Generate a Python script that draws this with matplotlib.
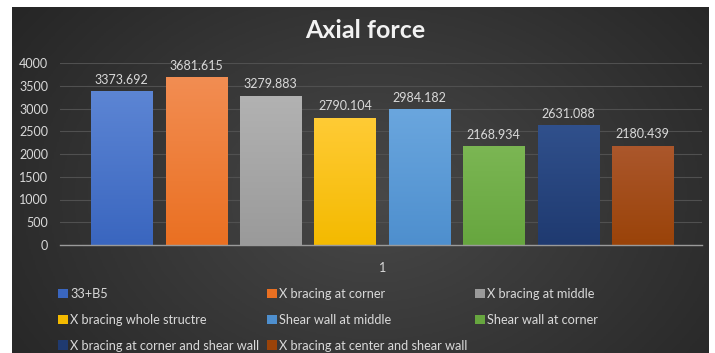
import numpy as np
import matplotlib
matplotlib.use("Agg")
import matplotlib.pyplot as plt
from matplotlib.colors import LinearSegmentedColormap

categories = ["33+B5", "X bracing at corner", "X bracing at middle",
              "X bracing whole structre", "Shear wall at middle",
              "Shear wall at corner", "X bracing at corner and shear wall",
              "X bracing at center and shear wall"]
values = [3373.692, 3681.615, 3279.883, 2790.104, 2984.182, 2168.934, 2631.088, 2180.439]
top_colors = ["#5c85d4", "#f28d52", "#b2b2b2", "#ffcb35", "#6aa6de", "#7bb653", "#30508c", "#ab572c"]
bottom_colors = ["#3a66bf", "#ea7022", "#9a9a9a", "#f4ba00", "#4e8fce", "#67a63f", "#1f3a70", "#9a4309"]
group_label = "1"
yticks = [0, 500, 1000, 1500, 2000, 2500, 3000, 3500, 4000]

plt.rcParams['font.family'] = ['Lato', 'DejaVu Sans']

W, H = 715, 353
fig = plt.figure(figsize=(W / 100, H / 100), dpi=100)
fig.patch.set_facecolor("white")

# dark gradient background panel
bg = fig.add_axes([12 / W, 0, (709 - 12) / W, (353 - 7) / H])
bg.set_axis_off()
yy, xx = np.mgrid[0:1:200j, 0:1:400j]
r = np.sqrt(((xx - 0.52) / 0.75) ** 2 + ((yy - 0.45) / 1.1) ** 2)
cmap_bg = LinearSegmentedColormap.from_list("bg", ["#484848", "#373737", "#262626"])
bg.imshow(r, cmap=cmap_bg, aspect="auto", extent=[0, 1, 0, 1], origin="lower", vmin=0, vmax=0.85)
bg.set_xlim(0, 1)
bg.set_ylim(0, 1)

ax = fig.add_axes([60 / W, 1 - 245 / H, (702 - 60) / W, (245 - 63) / H])
ax.set_facecolor("none")
x = np.arange(len(values))
width = 0.82
bars = ax.bar(x, values, width=width, color=bottom_colors, zorder=3)
handles = []
for i, b in enumerate(bars):
    cm = LinearSegmentedColormap.from_list("g%d" % i, [bottom_colors[i], top_colors[i]])
    grad = np.linspace(0, 1, 100).reshape(-1, 1)
    im = ax.imshow(grad, cmap=cm, aspect="auto", origin="lower",
                   extent=[b.get_x(), b.get_x() + b.get_width(), 0, b.get_height()], zorder=4)
    im.set_clip_path(b)
    handles.append(plt.Rectangle((0, 0), 1, 1, facecolor=bottom_colors[i], edgecolor="none"))
    ax.annotate(f"{values[i]:.3f}", (b.get_x() + b.get_width() / 2, b.get_height()),
                xytext=(0, 4), textcoords="offset points", ha="center", va="bottom",
                color="#d9d9d9", fontsize=9, zorder=5)

ax.set_xlim(-0.83, 7.8)
ax.set_ylim(0, 4000)
ax.set_yticks(yticks)
ax.set_yticklabels([str(t) for t in yticks], color="#d9d9d9", fontsize=9)
ax.set_xticks([3.5])
ax.set_xticklabels([group_label], color="#d9d9d9", fontsize=9)
ax.tick_params(axis="both", length=0)
ax.tick_params(axis="y", pad=8.5)
ax.tick_params(axis="x", pad=12)
ax.grid(axis="y", color="#505050", linewidth=0.8, zorder=0)
for s in ["top", "right", "left"]:
    ax.spines[s].set_visible(False)
ax.spines["bottom"].set_color("#9a9a9a")
ax.spines["bottom"].set_linewidth(1.0)
ax.spines["bottom"].set_zorder(6)

fig.text(365 / W, 1 - 30 / H, "Axial force", ha="center", va="center",
         color="#f2f2f2", fontsize=18, fontweight="bold")

order = [0, 3, 6, 1, 4, 7, 2, 5]
leg = fig.legend([handles[i] for i in order], [categories[i] for i in order],
                 ncol=3, loc="upper left", bbox_to_anchor=(58 / W, 1 - 288 / H),
                 frameon=False, fontsize=9.2, labelcolor="#d9d9d9",
                 handlelength=0.75, handleheight=0.75, handletextpad=0.2,
                 columnspacing=0.6, labelspacing=1.08, borderaxespad=0, borderpad=0)

fig.savefig("out.png", dpi=100, facecolor=fig.get_facecolor())
